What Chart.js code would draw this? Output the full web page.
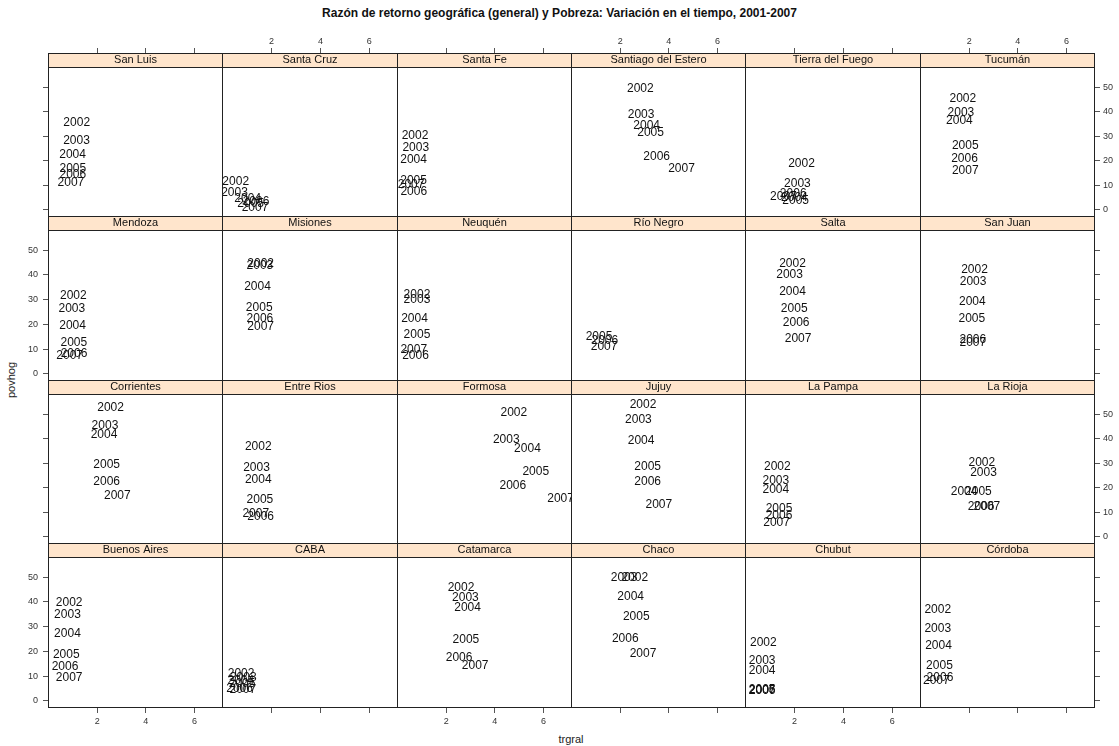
<!DOCTYPE html>
<html>
<head>
<meta charset="utf-8">
<script src="https://cdn.jsdelivr.net/npm/chart.js@4"></script>
<style>
  body { margin: 0; background: #fff; font-family: "Liberation Sans", Arial, sans-serif; }
  #wrap { position: relative; width: 1119px; height: 746px; overflow: hidden; }
  #title { position: absolute; top: 6px; left: 0; width: 1119px; text-align: center; font-weight: bold; font-size: 12px; color: #111; }
  #xlab { position: absolute; top: 733px; left: 48px; width: 1046px; text-align: center; font-size: 11px; color: #222; }
  #ylab { position: absolute; left: 11px; top: 380px; font-size: 11px; color: #222; transform: translate(-50%, -50%) rotate(-90deg); white-space: nowrap; }
</style>
</head>
<body>
<div id="wrap">
  <div id="title">Razón de retorno geográfica (general) y Pobreza: Variación en el tiempo, 2001-2007</div>
  <div id="ylab">povhog</div>
  <div id="xlab">trgral</div>
</div>
<script>
// Panels, in lattice order (filled from the bottom-left)
const provinces = ['Buenos Aires', 'CABA', 'Catamarca', 'Chaco', 'Chubut', 'Córdoba',
    'Corrientes', 'Entre Rios', 'Formosa', 'Jujuy', 'La Pampa', 'La Rioja',
    'Mendoza', 'Misiones', 'Neuquén', 'Río Negro', 'Salta', 'San Juan',
    'San Luis', 'Santa Cruz', 'Santa Fe', 'Santiago del Estero', 'Tierra del Fuego', 'Tucumán'];
const years = ['2002', '2003', '2004', '2005', '2006', '2007'];

// trgral (x) per province, one value per year
const trgral = [
    [0.85, 0.78, 0.78, 0.73, 0.68, 0.85],
    [0.76, 0.85, 0.75, 0.80, 0.70, 0.83],
    [2.61, 2.79, 2.88, 2.81, 2.53, 3.19],
    [2.60, 2.16, 2.43, 2.66, 2.21, 2.94],
    [0.73, 0.68, 0.68, 0.68, 0.68, 0.68],
    [0.71, 0.71, 0.74, 0.78, 0.80, 0.65],
    [2.55, 2.32, 2.28, 2.39, 2.39, 2.83],
    [1.46, 1.39, 1.46, 1.53, 1.56, 1.36],
    [4.78, 4.47, 5.34, 5.68, 4.74, 6.70],
    [2.94, 2.75, 2.86, 3.13, 3.13, 3.59],
    [1.30, 1.24, 1.24, 1.37, 1.37, 1.27],
    [2.52, 2.59, 1.79, 2.38, 2.49, 2.73],
    [1.02, 0.96, 0.99, 1.04, 1.05, 0.87],
    [1.56, 1.53, 1.43, 1.50, 1.53, 1.56],
    [0.80, 0.80, 0.70, 0.80, 0.74, 0.67],
    [null, null, null, 1.13, 1.37, 1.34],
    [1.92, 1.80, 1.92, 1.99, 2.07, 2.15],
    [2.22, 2.16, 2.13, 2.11, 2.15, 2.15],
    [1.16, 1.15, 0.99, 1.00, 1.00, 0.92],
    [0.54, 0.49, 1.03, 1.15, 1.37, 1.33],
    [0.72, 0.75, 0.66, 0.66, 0.67, 0.56],
    [2.83, 2.86, 3.09, 3.25, 3.50, 4.52],
    [2.29, 2.12, 2.00, 2.05, 1.95, 1.55],
    [1.74, 1.66, 1.60, 1.84, 1.81, 1.84]
];

// povhog (y) per province, one value per year
const povhog = [
    [39.7, 34.7, 27.0, 18.8, 13.7, 9.5],
    [11.0, 9.5, 8.0, 7.0, 4.8, 4.5],
    [45.8, 41.8, 37.5, 24.9, 17.4, 14.1],
    [50.0, 50.0, 42.2, 34.1, 25.3, 19.2],
    [23.5, 16.1, 12.4, 4.6, 4.2, 4.0],
    [36.8, 29.3, 22.2, 14.2, 9.4, 8.1],
    [52.7, 45.3, 41.5, 29.3, 22.6, 16.9],
    [36.8, 28.0, 23.5, 15.2, 8.4, 9.4],
    [50.7, 39.5, 36.1, 26.6, 20.8, 15.4],
    [54.0, 47.6, 39.1, 28.4, 22.3, 13.1],
    [28.4, 22.9, 19.2, 11.4, 8.8, 5.7],
    [30.4, 26.2, 18.5, 18.5, 12.2, 12.2],
    [31.7, 26.3, 19.6, 12.5, 8.1, 7.3],
    [44.6, 43.8, 35.4, 26.7, 22.5, 19.0],
    [32.1, 29.8, 22.2, 15.8, 7.5, 9.8],
    [null, null, null, 15.2, 13.6, 11.1],
    [44.5, 40.2, 33.4, 26.3, 20.8, 14.1],
    [42.2, 37.2, 29.3, 22.2, 13.8, 12.5],
    [35.7, 28.0, 22.5, 16.9, 14.5, 11.0],
    [11.4, 6.8, 4.4, 2.4, 3.3, 1.0],
    [30.4, 25.3, 20.3, 11.8, 7.3, 10.1],
    [49.2, 38.6, 34.4, 31.4, 21.5, 16.8],
    [18.8, 10.7, 5.0, 3.8, 6.4, 5.5],
    [45.3, 39.5, 36.5, 26.3, 21.0, 16.1]
];

const xTicks = [2, 4, 6];
const yTicks = [0, 10, 20, 30, 40, 50];
const X_MIN = -0.02, X_MAX = 7.17;
const Y_MIN = -2.9, Y_MAX = 58.2;

// page geometry of the lattice
const colLeft = [48, 222, 397, 571, 745, 920];
const colRight = [222, 397, 571, 745, 920, 1094];
const rowTop = [53, 216, 380, 543];
const rowBottom = [216, 380, 543, 707];
const LEFT_W = 28, RIGHT_W = 25, TOP_H = 20, BOTTOM_H = 24;

const FONT = '"Liberation Sans", Arial, sans-serif';
Chart.defaults.font.family = FONT;

// strip background, year labels and panel borders
const panelPlugin = {
    id: 'panel',
    beforeDraw(chart) {
        const t = chart.titleBlock, ctx = chart.ctx;
        ctx.save();
        ctx.fillStyle = '#ffe5cc';
        ctx.fillRect(t.left, t.top, t.width, t.height);
        ctx.restore();
    },
    afterDatasetsDraw(chart) {
        const ctx = chart.ctx, a = chart.chartArea;
        const pts = chart.data.datasets[0].data;
        ctx.save();
        ctx.beginPath();
        ctx.rect(a.left, a.top, a.right - a.left, a.bottom - a.top);
        ctx.clip();
        ctx.font = '12px ' + FONT;
        ctx.fillStyle = '#111';
        ctx.textAlign = 'center';
        ctx.textBaseline = 'middle';
        chart.getDatasetMeta(0).data.forEach((el, i) => {
            ctx.fillText(pts[i].label, el.x, el.y);
        });
        ctx.restore();
    },
    afterDraw(chart) {
        const ctx = chart.ctx, a = chart.chartArea, t = chart.titleBlock;
        ctx.save();
        ctx.strokeStyle = '#222';
        ctx.lineWidth = 1;
        ctx.strokeRect(t.left + 0.5, t.top + 0.5, t.width - 1, t.height);
        ctx.strokeRect(a.left + 0.5, a.top + 0.5, a.right - a.left - 1, a.bottom - a.top - 1);
        ctx.restore();
    }
};

function noPadding(s) {
    s.paddingTop = 0;
    s.paddingBottom = 0;
    s.paddingLeft = 0;
    s.paddingRight = 0;
}

const wrap = document.getElementById('wrap');

provinces.forEach((name, p) => {
    const row = 3 - Math.floor(p / 6), col = p % 6;
    const lw = col === 0 ? LEFT_W : 0, rw = col === 5 ? RIGHT_W : 0;
    const th = row === 0 ? TOP_H : 0, bh = row === 3 ? BOTTOM_H : 0;
    const w = lw + colRight[col] - colLeft[col] + 1 + rw;
    const h = th + rowBottom[row] - rowTop[row] + 1 + bh;

    const canvas = document.createElement('canvas');
    canvas.width = w;
    canvas.height = h;
    canvas.style.cssText = `position:absolute;left:${colLeft[col] - lw}px;top:${rowTop[row] - th}px;width:${w}px;height:${h}px`;
    wrap.appendChild(canvas);

    const points = [];
    years.forEach((yr, i) => {
        if (trgral[p][i] !== null) points.push({ x: trgral[p][i], y: povhog[p][i], label: yr });
    });

    const showX = row === 0 || row === 3;
    const xLabels = (row === 0 && col % 2 === 1) || (row === 3 && col % 2 === 0);
    const showY = col === 0 || col === 5;
    const yLabels = (col === 0 && row % 2 === 1) || (col === 5 && row % 2 === 0);

    const xScale = {
        type: 'linear', min: X_MIN, max: X_MAX,
        display: showX,
        position: row === 0 ? 'top' : 'bottom',
        weight: row === 0 ? 3000 : 0,
        border: { display: false },
        grid: { drawOnChartArea: false, drawTicks: true, tickLength: 5, color: '#555' },
        ticks: { display: xLabels, autoSkip: false, maxRotation: 0, padding: row === 0 ? 1 : 3, color: '#333', font: { size: 9 } },
        afterBuildTicks: s => { s.ticks = xTicks.map(v => ({ value: v })); }
    };
    if (showX) xScale.afterFit = s => { s.height = row === 0 ? TOP_H : BOTTOM_H; noPadding(s); };

    const yScale = {
        type: 'linear', min: Y_MIN, max: Y_MAX,
        display: showY,
        position: col === 0 ? 'left' : 'right',
        weight: 0,
        border: { display: false },
        grid: { drawOnChartArea: false, drawTicks: true, tickLength: 5, color: '#555' },
        ticks: { display: yLabels, autoSkip: false, padding: col === 0 ? 5 : 3, color: '#333', font: { size: 9 } },
        afterBuildTicks: s => { s.ticks = yTicks.map(v => ({ value: v })); }
    };
    if (showY) yScale.afterFit = s => { s.width = col === 0 ? LEFT_W : RIGHT_W; noPadding(s); };

    new Chart(canvas, {
        type: 'scatter',
        data: {
            datasets: [{
                data: points,
                pointRadius: 0,
                pointHoverRadius: 0,
                showLine: false
            }]
        },
        options: {
            responsive: false,
            animation: false,
            events: [],
            devicePixelRatio: 1,
            layout: { padding: 0 },
            plugins: {
                legend: { display: false },
                tooltip: { enabled: false },
                title: {
                    display: true,
                    text: name,
                    position: 'top',
                    fullSize: false,
                    weight: 2000,
                    padding: 0,
                    color: '#111',
                    font: { size: 11, weight: 'normal', lineHeight: '14px' }
                }
            },
            scales: { x: xScale, y: yScale }
        },
        plugins: [panelPlugin]
    });
});
</script>
</body>
</html>
